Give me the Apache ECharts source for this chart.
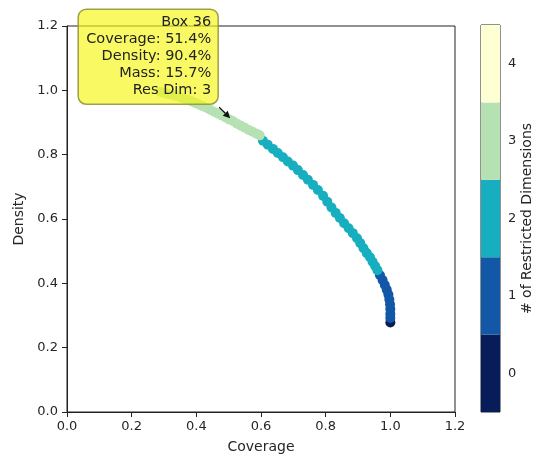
<!DOCTYPE html>
<html>
<head>
<meta charset="utf-8">
<script src="https://cdn.jsdelivr.net/npm/echarts@6/dist/echarts.min.js"></script>
<style>
  html, body { margin: 0; padding: 0; background: #fff; }
  #chart { width: 536px; height: 459px; }
</style>
</head>
<body>
<div id="chart"></div>
<script>
// Peeling trajectory: coverage / density of each box, grouped by number of restricted dimensions
const cov0 = [1.000];
const den0 = [0.278];

const cov1 = [1.000, 1.000, 1.000, 0.999, 0.997, 0.994, 0.989, 0.983, 0.976, 0.968];
const den1 = [0.292, 0.305, 0.320, 0.335, 0.350, 0.365, 0.380, 0.395, 0.410, 0.425];

const cov2 = [0.960, 0.953, 0.945, 0.937, 0.927, 0.917, 0.907, 0.897, 0.884, 0.871,
              0.857, 0.844, 0.831, 0.818, 0.805, 0.792, 0.776, 0.761, 0.745, 0.730,
              0.714, 0.699, 0.683, 0.668, 0.652, 0.637, 0.621, 0.606];
const den2 = [0.441, 0.454, 0.467, 0.481, 0.494, 0.509, 0.525, 0.540, 0.556, 0.571,
              0.587, 0.603, 0.619, 0.636, 0.654, 0.672, 0.690, 0.706, 0.722, 0.737,
              0.752, 0.766, 0.779, 0.792, 0.805, 0.818, 0.831, 0.843];

const cov3 = [0.596, 0.586, 0.574, 0.562, 0.550, 0.538, 0.526, 0.514, 0.503, 0.492,
              0.480, 0.468, 0.456, 0.444, 0.432, 0.420, 0.408, 0.396, 0.384, 0.372,
              0.360, 0.348, 0.336, 0.324, 0.312, 0.300, 0.290];
const den3 = [0.860, 0.865, 0.871, 0.877, 0.884, 0.890, 0.896, 0.904, 0.909, 0.915,
              0.921, 0.927, 0.933, 0.939, 0.945, 0.951, 0.956, 0.961, 0.966, 0.971,
              0.975, 0.979, 0.983, 0.986, 0.989, 0.992, 0.995];

// Highlighted box
const boxId = 36;
const boxCoverage = 0.514;
const boxDensity = 0.904;
const boxMass = 0.157;
const boxResDim = 3;

// Colour scale (discrete, one per restricted-dimension count)
const dimLevels = [0, 1, 2, 3, 4];
const dimColors = ['#071c58', '#1358a6', '#17aec0', '#b6e2b3', '#ffffd4'];

const axisTicks = [0.0, 0.2, 0.4, 0.6, 0.8, 1.0, 1.2];

const groups = [[cov0, den0], [cov1, den1], [cov2, den2], [cov3, den3]];
const points = [];
groups.forEach(function (g, dim) {
  g[0].forEach(function (c, i) { points.push([c, g[1][i], dim]); });
});

const FONT = 'DejaVu Sans';
const TXT = '#262626';

const chart = echarts.init(document.getElementById('chart'), null, { renderer: 'canvas' });

chart.setOption({
  animation: false,
  textStyle: { fontFamily: FONT },
  grid: [
    { left: 67, right: 81, top: 26, bottom: 47, show: true, borderColor: '#222', borderWidth: 1, backgroundColor: 'transparent' },
    { left: 481, width: 19, top: 25, bottom: 47, show: true, borderColor: '#222', borderWidth: 1 }
  ],
  xAxis: [
    {
      gridIndex: 0, type: 'value', min: axisTicks[0], max: axisTicks[axisTicks.length - 1], interval: 0.2,
      name: 'Coverage', nameLocation: 'middle', nameGap: 28,
      nameTextStyle: { fontFamily: FONT, fontSize: 14, color: TXT },
      axisLine: { show: true, onZero: false, lineStyle: { color: '#222', width: 1 } },
      axisTick: { show: true, length: 5, inside: false, lineStyle: { color: '#222' } },
      axisLabel: { fontFamily: FONT, fontSize: 13, color: TXT, margin: 8, formatter: function (v) { return v.toFixed(1); } },
      splitLine: { show: false }
    },
    {
      gridIndex: 1, type: 'value', min: 0, max: 1, show: false
    }
  ],
  yAxis: [
    {
      gridIndex: 0, type: 'value', min: axisTicks[0], max: axisTicks[axisTicks.length - 1], interval: 0.2,
      name: 'Density', nameLocation: 'middle', nameGap: 40, nameRotate: 90,
      nameTextStyle: { fontFamily: FONT, fontSize: 14, color: TXT },
      axisLine: { show: true, onZero: false, lineStyle: { color: '#222', width: 1 } },
      axisTick: { show: true, length: 5, inside: false, lineStyle: { color: '#222' } },
      axisLabel: { fontFamily: FONT, fontSize: 13, color: TXT, margin: 9, formatter: function (v) { return v.toFixed(1); } },
      splitLine: { show: false }
    },
    {
      gridIndex: 1, type: 'value', position: 'right', min: -0.5, max: 4.5,
      name: '# of Restricted Dimensions', nameLocation: 'middle', nameGap: 20, nameRotate: 90,
      nameTextStyle: { fontFamily: FONT, fontSize: 14, color: TXT },
      axisLine: { show: false },
      axisTick: { show: true, length: 5, inside: false, customValues: dimLevels, lineStyle: { color: '#222' } },
      axisLabel: { fontFamily: FONT, fontSize: 13, color: TXT, margin: 8, customValues: dimLevels },
      splitLine: { show: false }
    }
  ],
  series: [
    {
      type: 'scatter',
      xAxisIndex: 0, yAxisIndex: 0,
      symbol: 'circle', symbolSize: 10,
      data: points,
      itemStyle: { opacity: 1, color: function (p) { return dimColors[p.data[2]]; } },
      z: 3
    },
    {
      type: 'custom',
      xAxisIndex: 1, yAxisIndex: 1,
      data: dimLevels.map(function (d) { return [d]; }),
      renderItem: function (params, api) {
        const d = api.value(0);
        const p1 = api.coord([0, d + 0.5]);
        const p2 = api.coord([1, d - 0.5]);
        return {
          type: 'rect',
          shape: { x: p1[0], y: p1[1], width: p2[0] - p1[0], height: p2[1] - p1[1] },
          style: { fill: dimColors[d] }
        };
      },
      silent: true,
      z: 1
    }
  ]
});

// Callout for the selected box, anchored at its data point
function drawCallout() {
  const p = chart.convertToPixel({ gridIndex: 0 }, [boxCoverage, boxDensity]);
  const bw = 140, bh = 95;
  const bx = p[0] - 155, by = p[1] - 112;
  const ax0 = bx + bw + 1, ay0 = by + bh + 3;
  const ax1 = p[0] - 3, ay1 = p[1] - 3;
  const ang = Math.atan2(ay1 - ay0, ax1 - ax0);
  const hl = 7, hw = 3.5;
  const bxh = ax1 - hl * Math.cos(ang), byh = ay1 - hl * Math.sin(ang);
  const lines = [
    'Box ' + boxId,
    'Coverage: ' + (boxCoverage * 100).toFixed(1) + '%',
    'Density: ' + (boxDensity * 100).toFixed(1) + '%',
    'Mass: ' + (boxMass * 100).toFixed(1) + '%',
    'Res Dim: ' + boxResDim
  ];
  chart.setOption({
    graphic: [
      {
        type: 'line', z: 100,
        shape: { x1: ax0, y1: ay0, x2: bxh, y2: byh },
        style: { stroke: '#111', lineWidth: 1.2 }
      },
      {
        type: 'polygon', z: 100,
        shape: { points: [
          [ax1, ay1],
          [bxh - hw * Math.sin(ang), byh + hw * Math.cos(ang)],
          [bxh + hw * Math.sin(ang), byh - hw * Math.cos(ang)]
        ] },
        style: { fill: '#111' }
      },
      {
        type: 'rect', z: 101,
        shape: { x: bx, y: by, width: bw, height: bh, r: 8 },
        style: { fill: 'rgba(246,246,20,0.66)', stroke: 'rgba(150,150,60,0.9)', lineWidth: 1.5 }
      },
      {
        type: 'text', z: 102,
        x: bx + bw - 7, y: by + 5,
        style: {
          text: lines.join('\n'),
          fontFamily: FONT, fontSize: 14.5, lineHeight: 17,
          fill: '#222', align: 'right', verticalAlign: 'top'
        }
      }
    ]
  });
}
drawCallout();
</script>
</body>
</html>
